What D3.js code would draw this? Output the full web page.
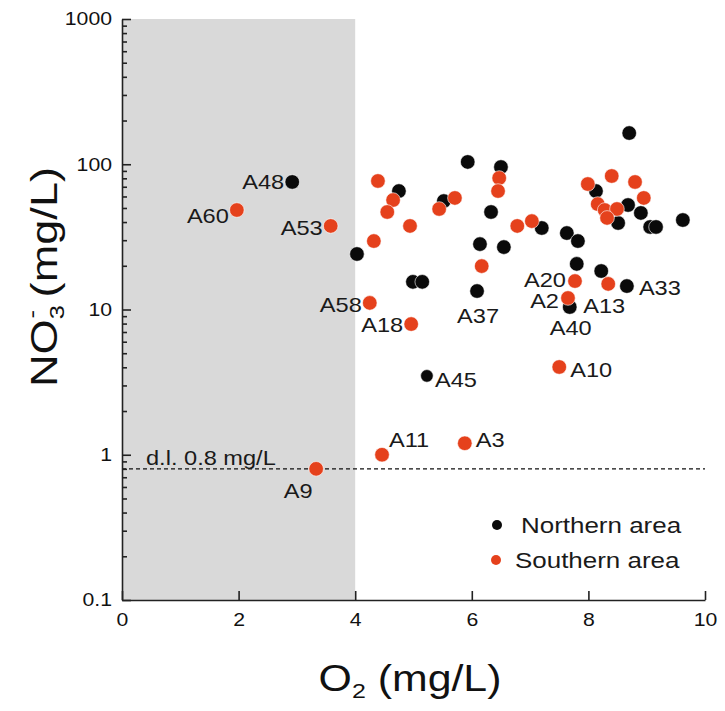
<!DOCTYPE html>
<html><head><meta charset="utf-8">
<script src="https://cdn.jsdelivr.net/npm/d3@7"></script>
<style>body{margin:0;background:#fff}svg{display:block;font-family:"Liberation Sans",Arial,sans-serif}</style>
</head><body>
<svg id="c" width="725" height="711"></svg>
<script>
// Northern area: O2 (mg/L), NO3- (mg/L), label
const northO2  = [2.92,4.03,4.75,4.99,5.15,5.52,5.23,5.93,6.50,6.33,6.14,6.55,6.09,7.20,7.63,7.82,7.80,8.22,7.68,8.66,8.70,8.13,8.68,8.90,8.51,9.06,9.16,9.62];
const northNO3 = [75.5,24.1,65.4,15.5,15.5,55.8,3.49,103.7,95.7,46.9,28.2,26.9,13.4,36.4,33.6,29.6,20.6,18.4,10.4,14.5,164,65.4,52.4,46.2,39.4,37.0,37.0,41.3];
const northLab = ["A48","","","","","","A45","","","","","","A37","","","","","","A40","A33","","","","","","","",""];
// Southern area
const southO2  = [1.97,3.58,3.33,4.39,4.65,4.55,4.94,4.32,4.25,4.96,4.46,5.88,5.44,5.71,6.47,6.45,6.78,7.03,6.17,7.77,7.65,8.34,7.50,7.99,8.40,8.80,8.95,8.16,8.28,8.49,8.32];
const southNO3 = [48.4,37.6,0.8,76.7,56.7,46.9,37.6,29.6,11.1,7.94,1.0,1.2,49.2,58.6,80.4,65.4,37.6,40.6,19.9,15.7,12.0,15.0,4.02,73.1,83.0,75.5,58.6,53.2,48.4,49.2,42.7];
const southLab = ["A60","A53","A9","","","","","","A58","A18","A11","A3","","","","","","","","A20","A2","A13","A10","","","","","","","",""];
const xTicks = [0,2,4,6,8,10];
const yTicks = [0.1,1,10,100,1000];
const yTickLabels = ["0.1","1","10","100","1000"];
const detectionLimit = 0.8;
const anoxicLimit = 4;
const seriesNames = ["Northern area","Southern area"];

// label placement [dx, dy, anchor]
const labelPos = {
  A48:[-8,7,"end"], A60:[-8,13,"end"], A53:[-8,9,"end"], A58:[-8,9,"end"], A18:[-8,8,"end"],
  A37:[1,32,"middle"], A20:[-9,6,"end"], A2:[-9,10,"end"], A13:[-4,29,"middle"], A40:[1,28,"middle"],
  A33:[12,9,"start"], A45:[8,11,"start"], A10:[11,10,"start"], A11:[7,-8,"start"], A3:[11,4,"start"],
  A9:[-18,29,"middle"]
};
const SX = 1.18; // glyph width factor of the reference font

const svg = d3.select("#c");
const x = d3.scaleLinear().domain([0,10]).range([122,705]);
const y = d3.scaleLog().domain([0.1,1000]).range([600,19]);

function wideText(g, px, py, str, size, anchor) {
  return g.append("text").attr("transform",`translate(${px},${py}) scale(${SX},1)`)
    .attr("text-anchor",anchor||"start").attr("font-size",size).attr("fill","#1a1a1a").text(str);
}

// shaded O2 < 4 region
svg.append("rect").attr("x",x(0)).attr("y",y(1000)).attr("width",x(anoxicLimit)-x(0))
  .attr("height",y(0.1)-y(1000)).attr("fill","#d9d9d9");

// detection limit line
svg.append("line").attr("x1",x(0)).attr("x2",x(10)).attr("y1",y(detectionLimit)).attr("y2",y(detectionLimit))
  .attr("stroke","#111").attr("stroke-width",1.3).attr("stroke-dasharray","4,3");
wideText(svg, 146, y(detectionLimit)-4, "d.l. 0.8 mg/L", 20);

// axes
const minor = [];
for (let d=0.1; d<1000; d*=10) for (let k=2;k<=9;k++) minor.push(+(d*k).toPrecision(3));
svg.append("g").attr("transform",`translate(${x(0)},0)`)
  .call(d3.axisLeft(y).tickValues(yTicks).tickFormat((d,i)=>yTickLabels[i]).tickSizeInner(-9).tickSizeOuter(0).tickPadding(10))
  .selectAll(".tick text").attr("x",-10/SX).attr("transform",`scale(${SX},1)`);
svg.append("g").attr("transform",`translate(${x(0)},0)`)
  .call(d3.axisLeft(y).tickValues(minor).tickFormat("").tickSizeInner(-5).tickSizeOuter(0))
  .select(".domain").remove();
svg.append("g").attr("transform",`translate(0,${y(0.1)})`)
  .call(d3.axisBottom(x).tickValues(xTicks).tickSizeInner(-9).tickSizeOuter(0).tickPadding(13))
  .selectAll(".tick text").attr("transform",`scale(${SX},1)`);
svg.selectAll(".tick text").attr("font-size",18).attr("fill","#111").attr("font-family","Liberation Sans, Arial, sans-serif");
svg.selectAll(".domain, .tick line").attr("stroke","#222").attr("stroke-width",1.6);

// points
function drawSeries(xs, ys, labs, color) {
  const data = xs.map((v,i)=>({x:v,y:ys[i],lab:labs[i]}));
  svg.append("g").selectAll("circle").data(data).join("circle")
    .attr("cx",d=>x(d.x)).attr("cy",d=>y(d.y)).attr("r",d=>d.lab==="A45"?6.3:7.3)
    .attr("fill",color).attr("stroke","#fff").attr("stroke-width",0.6);
  return data;
}
const nd = drawSeries(northO2,northNO3,northLab,"#0a0a0a");
const sd = drawSeries(southO2,southNO3,southLab,"#e5411c");
const lg = svg.append("g");
nd.concat(sd).filter(d=>d.lab).forEach(d=>{
  const p = labelPos[d.lab];
  wideText(lg, x(d.x)+p[0], y(d.y)+p[1], d.lab, 20, p[2]);
});

// legend
const leg = svg.append("g");
leg.append("circle").attr("cx",497).attr("cy",525).attr("r",5).attr("fill","#0a0a0a");
leg.append("circle").attr("cx",496).attr("cy",560).attr("r",5).attr("fill","#e5411c");
wideText(leg, 521, 533, seriesNames[0], 22);
wideText(leg, 515, 568, seriesNames[1], 22);

// axis titles
const yt = svg.append("text").attr("transform","translate(57,277) rotate(-90) scale(1.22,1)").attr("text-anchor","middle")
  .attr("font-size",37).attr("fill","#111");
yt.append("tspan").text("NO");
yt.append("tspan").attr("font-size",21).attr("dy",7).text("3");
yt.append("tspan").attr("font-size",21).attr("dy",-25).attr("dx",-11).text("-");
yt.append("tspan").attr("dy",18).text(" (mg/L)");
const xt = svg.append("text").attr("transform","translate(410,691) scale(1.19,1)").attr("text-anchor","middle")
  .attr("font-size",36).attr("fill","#111");
xt.append("tspan").text("O");
xt.append("tspan").attr("font-size",21).attr("dy",7).text("2");
xt.append("tspan").attr("dy",-7).text(" (mg/L)");
</script>
</body></html>
